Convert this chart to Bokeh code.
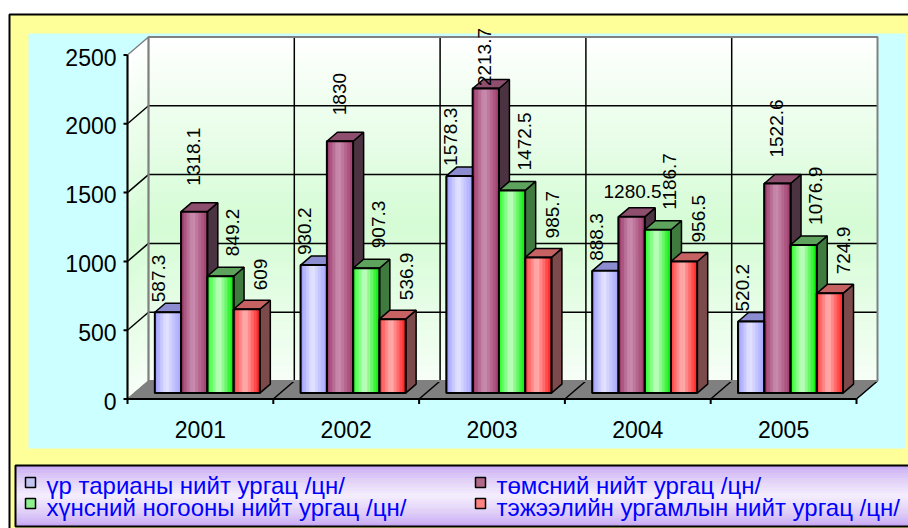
import numpy as np
from bokeh.plotting import figure
from bokeh.models import Range1d
from bokeh.core.properties import value
from bokeh.embed import file_html
from bokeh.resources import INLINE

# ---------------- data ----------------
years = ["2001", "2002", "2003", "2004", "2005"]
series_names = [
    "үр тарианы нийт ургац /цн/",
    "төмсний нийт ургац /цн/",
    "хүнсний ногооны нийт ургац /цн/",
    "тэжээлийн ургамлын нийт ургац /цн/",
]
grain = [587.3, 930.2, 1578.3, 888.3, 520.2]
potato = [1318.1, 1830, 2213.7, 1280.5, 1522.6]
vegetables = [849.2, 907.3, 1472.5, 1186.7, 1076.9]
fodder = [609, 536.9, 985.7, 956.5, 724.9]
series_values = [grain, potato, vegetables, fodder]
y_ticks = [0, 500, 1000, 1500, 2000, 2500]

# ---------------- layout / style ----------------
FONT = "Liberation Sans"
W, H = 908, 528
CAT_PX = 145.8
VAL_PX = 344.0 / 2500.0
ORIGIN_X = 127
ORIGIN_Y = 398.5
x_start = -ORIGIN_X / CAT_PX
x_end = x_start + W / CAT_PX
y_end = ORIGIN_Y / VAL_PX
y_start = y_end - H / VAL_PX


def X(px):
    return x_start + px / CAT_PX


def Y(py):
    return y_end - py / VAL_PX


def dxp(n):
    return n / CAT_PX


def dyp(n):
    return n / VAL_PX


DX, DY = dxp(21), dyp(18)
D1 = 0.33
DD = 0.5
BW = 0.18
n_cat = len(years)
n_ser = len(series_values)
y_top = y_ticks[-1]


def mix(c1, c2, t):
    a = [int(c1[i:i + 2], 16) for i in (1, 3, 5)]
    b = [int(c2[i:i + 2], 16) for i in (1, 3, 5)]
    return "#%02x%02x%02x" % tuple(int(round(a[j] + (b[j] - a[j]) * t)) for j in range(3))


face_stops = [
    ("#9A9AFF", "#E6E6FF", "#A4A4FF"),
    ("#993366", "#CC92B2", "#A03C6C"),
    ("#1EFF1E", "#CCFFCC", "#00EE00"),
    ("#FF3A3A", "#FFB6B6", "#FF1E1E"),
]
top_colors = ["#8C8CD0", "#8E4F6F", "#5DA35D", "#C66262"]
side_colors = ["#60609A", "#4B3341", "#3F7A3F", "#7C4A4A"]
swatch_colors = ["#C4C4F2", "#B06888", "#8EF08E", "#FF8282"]
N_STRIP = 9
LABEL_PX = 19


def strip_colors(stops):
    l, c, r = stops
    out = []
    for s in range(N_STRIP):
        t = (s + 0.5) / N_STRIP
        if t < 0.45:
            out.append(mix(l, c, t / 0.45))
        else:
            out.append(mix(c, r, (t - 0.45) / 0.55))
    return out


def text_len_px(s):
    return sum(0.556 if ch.isdigit() else 0.278 for ch in s) * LABEL_PX


p = figure(width=W, height=H,
           x_range=Range1d(x_start, x_end), y_range=Range1d(y_start, y_end),
           x_axis_location=None, y_axis_location=None,
           toolbar_location=None, output_backend="svg", min_border=0,
           outline_line_color=None, background_fill_color="white",
           border_fill_color="white")
p.grid.visible = False

# backgrounds
p.quad(left=[X(9)], right=[X(940)], top=[Y(14)], bottom=[Y(540)],
       fill_color="#FFFF99", line_color="black", line_width=2)
p.quad(left=[X(28)], right=[X(905)], top=[Y(33)], bottom=[Y(448)],
       fill_color="#CCFFFF", line_color=None)

# walls with vertical gradient
NB = 40
band_cols, b0, b1 = [], [], []
for j in range(NB):
    v0 = y_top * j / NB
    v1 = y_top * (j + 1) / NB
    t = (j + 0.5) / NB
    w = max(0.0, 1 - abs(t - 0.45) / 0.55)
    band_cols.append(mix("#FFFFFF", "#D4FCD4", w))
    b0.append(v0)
    b1.append(v1)
p.quad(left=[DX] * NB, right=[n_cat + DX] * NB,
       bottom=[v + DY for v in b0], top=[v + DY for v in b1],
       fill_color=band_cols, line_color=band_cols, line_width=0.5)
p.patches(xs=[[0, 0, DX, DX] for _ in range(NB)],
          ys=[[v0, v1, v1 + DY, v0 + DY] for v0, v1 in zip(b0, b1)],
          fill_color=band_cols, line_color=band_cols, line_width=0.5)

# floor
p.patch(x=[0, n_cat, n_cat + DX, DX], y=[0, 0, DY, DY],
        fill_color="#808080", line_color="#707070", line_width=1)

# grid lines
inner = y_ticks[1:-1]
p.multi_line(xs=[[DX, n_cat + DX] for _ in inner], ys=[[v + DY, v + DY] for v in inner],
             line_color="black", line_width=1.5)
p.multi_line(xs=[[0, DX] for _ in inner], ys=[[v, v + DY] for v in inner],
             line_color="black", line_width=1.5)
p.multi_line(xs=[[i + DX, i + DX] for i in range(1, n_cat)],
             ys=[[DY, y_top + DY] for _ in range(1, n_cat)],
             line_color="black", line_width=1.5)
p.multi_line(xs=[[i, i + DX] for i in range(1, n_cat + 1)],
             ys=[[0, DY] for _ in range(1, n_cat + 1)],
             line_color="black", line_width=1.5)
# wall borders
p.patch(x=[DX, DX, n_cat + DX, n_cat + DX], y=[DY, y_top + DY, y_top + DY, DY],
        fill_color=None, line_color="#808080", line_width=2)
p.patch(x=[0, 0, DX, DX], y=[0, y_top, y_top + DY, DY],
        fill_color=None, line_color="#808080", line_width=1.5)

# axes
p.segment(x0=[0], y0=[0], x1=[0], y1=[y_top], line_color="black", line_width=2)
p.segment(x0=[0] * len(y_ticks), y0=y_ticks, x1=[-dxp(4)] * len(y_ticks), y1=y_ticks,
          line_color="black", line_width=2)
p.segment(x0=[0], y0=[0], x1=[n_cat], y1=[0], line_color="black", line_width=2)
p.segment(x0=list(range(n_cat + 1)), y0=[0] * (n_cat + 1),
          x1=list(range(n_cat + 1)), y1=[-dyp(5)] * (n_cat + 1),
          line_color="black", line_width=2)
p.text(x=[0] * len(y_ticks), y=y_ticks, text=[str(t) for t in y_ticks],
       x_offset=-11, y_offset=2, text_align="right", text_baseline="middle",
       text_font=value(FONT), text_font_size="23px", text_color="black")
p.text(x=[i + 0.5 for i in range(n_cat)], y=[0] * n_cat, text=years,
       y_offset=30, text_align="center", text_baseline="middle",
       text_font=value(FONT), text_font_size="23px", text_color="black")

# bars
side_xs, side_ys, side_c = [], [], []
top_xs, top_ys, top_c = [], [], []
fl, fr, fb, ft, fc = [], [], [], [], []
ser_l = [[] for _ in range(n_ser)]
ser_r = [[] for _ in range(n_ser)]
ser_b = [[] for _ in range(n_ser)]
ser_t = [[] for _ in range(n_ser)]
lab_x, lab_y, lab_t, lab_dx, lab_dy = [], [], [], [], []
c_x, c_y, c_t, c_dx = [], [], [], []
h_x, h_y, h_t = [], [], []
label_dx = [-9, -1, 12, 14]
label_up = [10, 26, 20, 19]
horizontal_labels = {(1, 3)}
label_ceiling = y_top + DY + dyp(9)
for i in range(n_cat):
    for k in range(n_ser):
        v = series_values[k][i]
        L = i + 0.5 - n_ser * BW / 2 + k * BW + D1 * DX
        R = L + BW
        B = D1 * DY
        T = v + D1 * DY
        ex, ey = DD * DX, DD * DY
        side_xs.append([R, R + ex, R + ex, R])
        side_ys.append([B, B + ey, T + ey, T])
        side_c.append(side_colors[k])
        top_xs.append([L, R, R + ex, L + ex])
        top_ys.append([T, T, T + ey, T + ey])
        top_c.append(top_colors[k])
        cols = strip_colors(face_stops[k])
        for s in range(N_STRIP):
            fl.append(L + BW * s / N_STRIP)
            fr.append(L + BW * (s + 1) / N_STRIP)
            fb.append(B)
            ft.append(T)
            fc.append(cols[s])
        ser_l[k].append(L); ser_r[k].append(R); ser_b[k].append(B); ser_t[k].append(T)
        txt = f"{v:g}"
        if (k, i) in horizontal_labels:
            h_x.append((L + R) / 2); h_y.append(T); h_t.append(txt)
        elif T + dyp(label_up[k] + text_len_px(txt)) > label_ceiling:
            c_x.append((L + R) / 2); c_y.append(label_ceiling); c_t.append(txt)
            c_dx.append(label_dx[k])
        else:
            lab_x.append((L + R) / 2); lab_y.append(T); lab_t.append(txt)
            lab_dx.append(label_dx[k]); lab_dy.append(-label_up[k])

p.patches(xs=side_xs, ys=side_ys, fill_color=side_c, line_color="black", line_width=1.5)
p.patches(xs=top_xs, ys=top_ys, fill_color=top_c, line_color="black", line_width=1.5)
for k in range(n_ser):
    p.quad(left=ser_l[k], right=ser_r[k], bottom=ser_b[k], top=ser_t[k],
           fill_color=swatch_colors[k], line_color="black", line_width=1.5)
p.quad(left=fl, right=fr, bottom=fb, top=ft, fill_color=fc, line_color=fc, line_width=0.6)
for k in range(n_ser):
    p.quad(left=ser_l[k], right=ser_r[k], bottom=ser_b[k], top=ser_t[k],
           fill_color=None, line_color="black", line_width=2)

label_style = dict(text_font=value(FONT), text_font_size=f"{LABEL_PX}px", text_color="black")
p.text(x=lab_x, y=lab_y, text=lab_t, x_offset=lab_dx, y_offset=lab_dy,
       angle=np.pi / 2, text_align="left", text_baseline="middle", **label_style)
p.text(x=c_x, y=c_y, text=c_t, x_offset=c_dx,
       angle=np.pi / 2, text_align="right", text_baseline="middle", **label_style)
p.text(x=h_x, y=h_y, text=h_t, x_offset=1, y_offset=-25,
       text_align="center", text_baseline="middle", **label_style)

# legend (drawn as a two-column key box)
LG_TOP, LG_BOTTOM, LG_LEFT = 465, 526, 15
NL = 24
lg_cols, lg_t, lg_b = [], [], []
for j in range(NL):
    t = (j + 0.5) / NL
    w = max(0.0, 1 - abs(t - 0.5) / 0.5)
    lg_cols.append(mix("#C2A0F4", "#F4EEFF", w ** 0.7))
    lg_t.append(Y(LG_TOP + (LG_BOTTOM - LG_TOP) * j / NL))
    lg_b.append(Y(LG_TOP + (LG_BOTTOM - LG_TOP) * (j + 1) / NL))
p.quad(left=[X(LG_LEFT)] * NL, right=[X(940)] * NL, top=lg_t, bottom=lg_b,
       fill_color=lg_cols, line_color=lg_cols, line_width=0.5)
p.quad(left=[X(LG_LEFT)], right=[X(940)], top=[Y(LG_TOP)], bottom=[Y(LG_BOTTOM)],
       fill_color=None, line_color="black", line_width=2)
col_sw = [25, 475]
col_tx = [46, 496]
row_sw = [477, 498]
row_mid = [485, 507]
sw_l, sw_r, sw_t, sw_b, tx_x, tx_y = [], [], [], [], [], []
for k in range(n_ser):
    r, c = k // 2, k % 2
    sw_l.append(X(col_sw[c])); sw_r.append(X(col_sw[c] + 10))
    sw_t.append(Y(row_sw[r])); sw_b.append(Y(row_sw[r] + 10))
    tx_x.append(X(col_tx[c])); tx_y.append(Y(row_mid[r]))
p.quad(left=sw_l, right=sw_r, top=sw_t, bottom=sw_b, fill_color=swatch_colors,
       line_color="black", line_width=1.5)
p.text(x=tx_x, y=tx_y, text=series_names, text_align="left", text_baseline="middle",
       text_font=value(FONT), text_font_size="24px", text_color="#0000FF")

open("out.html", "w").write(file_html(p, INLINE))
